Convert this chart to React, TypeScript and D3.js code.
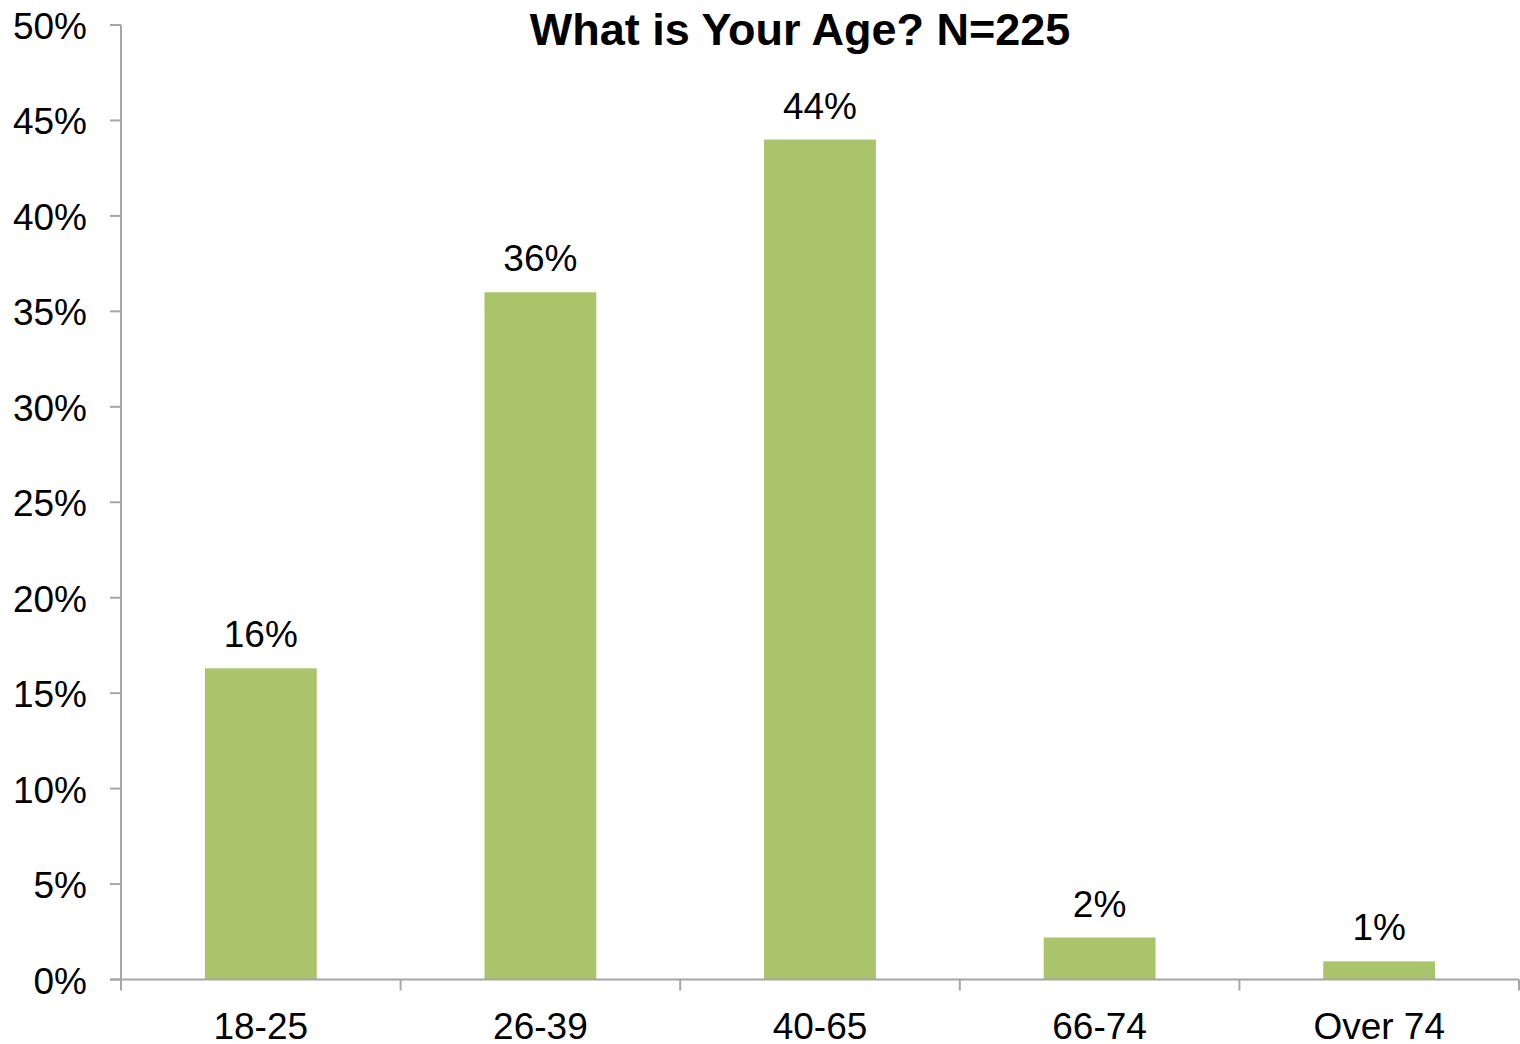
import React from "react";
import * as d3 from "d3";

const categories = ["18-25", "26-39", "40-65", "66-74", "Over 74"];
const values = [16.3, 36.0, 44.0, 2.2, 0.95];
const valueLabels = ["16%", "36%", "44%", "2%", "1%"];
const yTicks = [0, 5, 10, 15, 20, 25, 30, 35, 40, 45, 50];
const title = "What is Your Age? N=225";

const W = 1520;
const H = 1044;
const left = 121;
const right = 1519;
const top = 25;
const bottom = 979.5;
const font = "'Liberation Sans', Arial, sans-serif";
const axisColor = "#A6A6A6";
const barColor = "#AAC46C";
const fs = 37;

export default function App() {
  const x = d3.scaleBand<string>().domain(categories).range([left, right]).paddingInner(0.6).paddingOuter(0.3);
  const band = d3.scaleBand<string>().domain(categories).range([left, right]);
  const y = d3.scaleLinear().domain([0, 50]).range([bottom, top]);
  const boundaries = d3.range(categories.length + 1).map((i) => left + i * band.step());

  return (
    <svg width={W} height={H} style={{ position: "absolute", left: 0, top: 0, background: "#fff" }}>
      <text x={800} y={45} textAnchor="middle" fontFamily={font} fontWeight="bold" fontSize={45} fill="#000">
        {title}
      </text>
      {categories.map((c, i) => (
        <g key={c}>
          <rect x={x(c)} y={y(values[i])} width={x.bandwidth()} height={bottom - y(values[i])} fill={barColor} />
          <text
            x={(x(c) as number) + x.bandwidth() / 2}
            y={y(values[i]) - 21}
            textAnchor="middle"
            fontFamily={font}
            fontSize={fs}
            fill="#000"
          >
            {valueLabels[i]}
          </text>
          <text
            x={(band(c) as number) + band.bandwidth() / 2}
            y={1039}
            textAnchor="middle"
            fontFamily={font}
            fontSize={fs}
            fill="#000"
          >
            {c}
          </text>
        </g>
      ))}
      <line x1={left} x2={left} y1={top} y2={bottom} stroke={axisColor} strokeWidth={2} />
      <line x1={left - 11} x2={right} y1={bottom} y2={bottom} stroke={axisColor} strokeWidth={2} />
      {yTicks.map((t) => (
        <g key={t}>
          <line x1={left - 11} x2={left} y1={y(t)} y2={y(t)} stroke={axisColor} strokeWidth={2} />
          <text x={87} y={y(t) + 14} textAnchor="end" fontFamily={font} fontSize={fs} fill="#000">
            {t}%
          </text>
        </g>
      ))}
      {boundaries.map((bx, i) => (
        <line key={i} x1={bx} x2={bx} y1={bottom} y2={bottom + 11} stroke={axisColor} strokeWidth={2} />
      ))}
    </svg>
  );
}
